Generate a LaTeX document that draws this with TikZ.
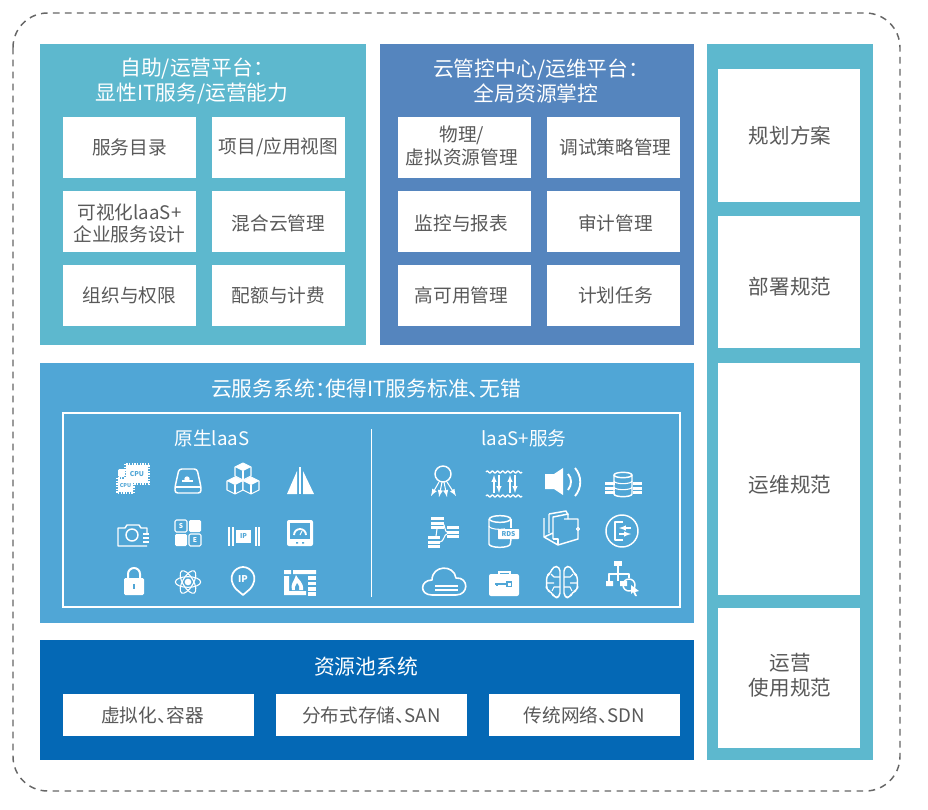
\documentclass[tikz,border=0pt]{standalone}
\usepackage{fontspec}
\setmainfont{Noto Sans CJK SC}[RawFeature=+palt]
\usetikzlibrary{positioning}

\definecolor{tealbg}{HTML}{5DB8CE}
\definecolor{steelbg}{HTML}{5585BE}
\definecolor{skybg}{HTML}{50A6D6}
\definecolor{deepbg}{HTML}{0468B5}
\definecolor{tiletext}{HTML}{595959}
\definecolor{edgegray}{HTML}{666666}

\tikzstyle{panel} = [rectangle, inner sep = 0pt, outer sep = 0pt]
\tikzstyle{head} = [text = white, font = \fontsize{15.6}{18.8}\selectfont, align = center, inner sep = 0pt]
\tikzstyle{sub} = [text = white, font = \fontsize{14}{17}\selectfont, inner sep = 0pt]
\tikzstyle{tile} = [rectangle, fill = white, text = tiletext, font = \fontsize{14}{17}\selectfont, align = center, inner sep = 0pt, minimum width = 99.75pt, minimum height = 45.75pt]
\tikzstyle{wide} = [tile, minimum width = 143.25pt, minimum height = 31.5pt]
\tikzstyle{side} = [tile, font = \fontsize{15.4}{18.8}\selectfont, minimum width = 106.5pt]
\tikzstyle{ico} = [draw = white, line width = 0.8pt, line join = round]
\tikzstyle{mini} = [inner sep = 0pt, font = \bfseries\fontsize{5}{5}\selectfont]

\newcommand{\nudge}[3]{\raisebox{\dimexpr#2-0.25em\relax}[0pt][0pt]{\makebox[0pt]{\kern#1\parbox{9.5em}{\centering #3}\kern-#1}}}
\newcommand{\isocube}[2]{
  \filldraw[ico, fill = skybg] (#1,#2-9) -- (#1+8,#2-5) -- (#1+8,#2+4) -- (#1,#2+8) -- (#1-8,#2+4) -- (#1-8,#2-5) -- cycle;
  \fill[white] (#1,#2-9) -- (#1+8,#2-5) -- (#1,#2-1) -- (#1-8,#2-5) -- cycle;
  \draw[ico] (#1,#2-1) -- (#1,#2+8);
}
\newcommand{\dbstack}[3]{
  \foreach \k in {0,1,2} \fill[white] (#1-#3,#2-6+\k*4.5) rectangle (#1+#3,#2-3+\k*4.5);
}

\tikzset{
  cpuicon/.pic = {
    \fill[white] (-8,-15) rectangle (14,3);
    \draw[white, line width = 1.2pt, dash pattern = on 1pt off 1pt] (-9,-16) rectangle (15,4);
    \fill[white, rounded corners = 1pt] (-16,-11) rectangle (-9,-3);
    \fill[white] (-16,-1) rectangle (-1,12);
    \draw[white, line width = 1.2pt, dash pattern = on 1pt off 1pt] (-17,-2) rectangle (0,13);
    \node[mini, text = skybg] at (3,-6) {CPU};
    \node[mini, text = skybg, font = \bfseries\fontsize{4}{4}\selectfont] at (-8.5,6) {CPU};
  },
  diskicon/.pic = {
    \draw[ico, line width = 1.1pt, rounded corners = 2pt] (-9,-12) -- (9,-12) -- (13,6) -- (13,12) -- (-13,12) -- (-13,6) -- cycle;
    \draw[ico] (-13,6) -- (13,6);
    \fill[white] (-6,-1) rectangle (5,1);
    \fill[white] (-1,-2) circle (2pt);
  },
  cubeicon/.pic = {
    \isocube{0}{-9}
    \isocube{-8}{5}
    \isocube{8}{5}
  },
  sailicon/.pic = {
    \fill[white] (-13,14) -- (-3,14) -- (-3,-9) -- cycle;
    \fill[white] (3,14) -- (14,14) -- (3,-9) -- cycle;
    \fill[white] (-1,-13) rectangle (1,14);
  },
  camicon/.pic = {
    \draw[ico, line width = 1.1pt] (15,-1) -- (15,-7) -- (9,-7) -- (7,-10) -- (-5,-10) -- (-7,-7) -- (-14,-7) -- (-14,11) -- (15,11);
    \draw[ico, line width = 1.1pt] (0,0) circle (4.5pt);
    \foreach \k in {-2,2,6} \fill[white] (11,\k) rectangle (17,\k+2);
  },
  seicon/.pic = {
    \fill[white, rounded corners = 1pt] (1,-13) rectangle (13,-1);
    \fill[white, rounded corners = 1pt] (-13,1) rectangle (-1,13);
    \draw[ico, rounded corners = 1pt] (-13,-13) rectangle (-1,-1);
    \draw[ico, rounded corners = 1pt] (1,1) rectangle (13,13);
    \node[mini, text = white] at (-7,-7) {S};
    \node[mini, text = white] at (7,7) {E};
  },
  ipicon/.pic = {
    \foreach \k in {-15,-11,12,15} \fill[white] (\k,-9) rectangle (\k+1.5,10);
    \fill[white] (-7,-6) rectangle (8,7);
    \node[mini, text = skybg] at (0.5,0.5) {IP};
  },
  gaugeicon/.pic = {
    \fill[white, rounded corners = 1.5pt] (-13,-13) rectangle (13,13);
    \fill[skybg] (-10,-10) rectangle (10,6);
    \draw[white, line width = 1.4pt] (-6,2) arc[start angle = 180, end angle = 0, radius = 4.5pt];
    \draw[white, line width = 0.8pt] (0,2) -- (2,-2);
    \fill[skybg] (-4,9) rectangle (-2,10.5) (2,9) rectangle (4,10.5);
  },
  lockicon/.pic = {
    \fill[white, rounded corners = 1pt] (-10,-4) rectangle (10,13);
    \draw[white, line width = 1.5pt] (-6,-4) -- (-6,-8) arc[start angle = 180, end angle = 0, radius = 4.5pt] -- (6,-4);
    \fill[skybg] (-1,2) rectangle (1,7);
  },
  atomicon/.pic = {
    \draw[ico] (0,0) ellipse (9.5pt and 4pt);
    \draw[ico, rotate = 60] (0,0) ellipse (9.5pt and 4pt);
    \draw[ico, rotate = -60] (0,0) ellipse (9.5pt and 4pt);
    \fill[white] (0,0) circle (2.5pt);
  },
  pinicon/.pic = {
    \draw[ico, line width = 1.3pt] (-7,6) .. controls (-17,-6) and (-8,-16) .. (0,-16) .. controls (8,-16) and (17,-6) .. (7,6) -- (0,12) -- cycle;
    \node[mini, text = white, font = \bfseries\fontsize{7}{7}\selectfont] at (0,-4) {IP};
  },
  fireicon/.pic = {
    \fill[white] (-16,-12) rectangle (-9,-8) (-7,-12) rectangle (16,-8);
    \fill[white] (-16,-6) rectangle (-11,13) (-11,9) rectangle (6,13);
    \foreach \k in {-6,-0.5,5,10} \fill[white] (8,\k) rectangle (16,\k+3.5);
    \fill[white] (-4,-7) .. controls (-2,-2) and (4,0) .. (3,8) -- (-8,8) .. controls (-10,2) and (-6,0) .. (-4,-7);
    \fill[skybg] (-3,1) .. controls (-1,4) and (0,5) .. (-1,8) -- (-5,8) .. controls (-6,5) and (-4,4) .. (-3,1);
  },
  treeicon/.pic = {
    \draw[ico, line width = 1.1pt] (-1,-8) circle (6pt);
    \draw[ico, -latex] (-5,0) -- (-13,14);
    \draw[ico, -latex] (-2,0) -- (-5,15);
    \draw[ico, -latex] (0,0) -- (3,15);
    \draw[ico, -latex] (3,0) -- (12,14);
  },
  qosicon/.pic = {
    \draw[ico, line width = 1pt] plot[domain = -18:18, samples = 60] (\x,{-11+1*sin(\x*70)});
    \draw[ico, line width = 1pt] plot[domain = -18:18, samples = 60] (\x,{13+1*sin(\x*70)});
    \foreach \k in {-10,6} \draw[ico, -latex] (\k,10) -- (\k,-8);
    \foreach \k in {-5,11} \draw[ico, latex-] (\k,10) -- (\k,-8);
  },
  speakericon/.pic = {
    \fill[white] (-17,-8) -- (-8,-8) -- (1,-14) -- (1,13) -- (-8,7) -- (-17,7) -- cycle;
    \draw[white, line width = 1.4pt] (6,-8) .. controls (10,-4) and (10,3) .. (6,8);
    \draw[white, line width = 1.4pt] (13,-14) .. controls (20,-6) and (20,6) .. (13,14);
  },
  dbicon/.pic = {
    \draw[ico, line width = 1.1pt] (-8,-7) -- (-8,12) arc[start angle = 180, end angle = 360, x radius = 6.75pt, y radius = 2pt] -- (10,-7);
    \draw[ico, line width = 1.1pt] (1,-7) ellipse (6.75pt and 2pt);
    \draw[ico] (-8,-1) arc[start angle = 180, end angle = 360, x radius = 6.75pt, y radius = 2pt];
    \draw[ico] (-8,5) arc[start angle = 180, end angle = 360, x radius = 6.75pt, y radius = 2pt];
    \dbstack{-12}{6}{5}
    \dbstack{15}{6}{4.5}
  },
  flowicon/.pic = {
    \dbstack{-7}{-9}{6.5}
    \dbstack{9}{0}{6}
    \dbstack{-10}{10}{6}
    \draw[ico] (-1,-9) .. controls (1,-6) and (1,0) .. (3,0) (-7,-3) -- (-8,4) (-4,10) .. controls (0,10) and (0,2) .. (3,2);
  },
  rdsicon/.pic = {
    \draw[ico, line width = 1.1pt] (-15,-12) -- (-15,13) arc[start angle = 180, end angle = 360, x radius = 8pt, y radius = 2.5pt] -- (7,8);
    \draw[ico, line width = 1.1pt] (7,-12) -- (7,-3);
    \draw[ico, line width = 1.1pt] (-4,-12) ellipse (8pt and 2.5pt);
    \draw[ico] (-15,-5) arc[start angle = 180, end angle = 300, x radius = 8pt, y radius = 2.5pt];
    \fill[white, rounded corners = 0.5pt] (-6,-2) rectangle (15,8);
    \node[mini, text = skybg] at (4.5,3) {RDS};
  },
  foldericon/.pic = {
    \draw[ico, line width = 1.1pt] (-11,-16) -- (6,-19) -- (8,-15) (-16,-12) -- (-16,7) -- (-2,15) -- (18,9) -- (18,-11) -- (4,-11);
    \draw[ico, line width = 1.1pt] (-7,9) -- (-7,-13) -- (8,-16) -- (8,-11) (-11,-16) -- (-11,3) (-16,7) -- (-7,3);
    \draw[ico] (-2,15) -- (-2,9) -- (-7,9);
    \draw[ico] (18,-1) circle (1.2pt);
  },
  swapicon/.pic = {
    \draw[ico, line width = 1.1pt] (0,0) circle (12pt);
    \draw[ico] (1,-9) -- (-7,-9) -- (-7,9) -- (1,9);
    \draw[ico, -latex] (9,-3) -- (-3,-3);
    \draw[ico, latex-] (9,3) -- (-3,3);
  },
  cloudicon/.pic = {
    \draw[ico, line width = 1.2pt] (-12,13) .. controls (-25,13) and (-24,-2) .. (-12,-2) .. controls (-12,-17) and (10,-18) .. (12,-4) .. controls (25,-5) and (25,13) .. (12,13) -- cycle;
    \fill[white] (-9,3) rectangle (14,5);
    \fill[white] (-9,7) rectangle (14,9);
  },
  keyicon/.pic = {
    \draw[white, line width = 1pt] (-5,-8) -- (-5,-11) -- (6,-11) -- (6,-8);
    \fill[white, rounded corners = 1.5pt] (-15,-9) rectangle (15,13);
    \draw[skybg, line width = 0.9pt] (-9,1) -- (2,1) (-7,1) -- (-7,3);
    \fill[skybg] (2,-2) rectangle (8,4);
    \fill[white] (3.5,-0.5) rectangle (6.5,2.5);
  },
  brainicon/.pic = {
    \foreach \s in {-1,1} {
      \draw[ico, line width = 1.1pt, rounded corners = 3pt, xscale = \s] (2,-15) -- (9,-16) -- (11,-9) -- (16,-6) -- (15,2) -- (16,8) -- (10,10) -- (8,16) -- (2,15) -- cycle;
      \draw[ico, xscale = \s] (2,-5) -- (8,-5) -- (11,-8) (2,5) -- (8,5) -- (10,9) (15,1) -- (8,1);
    }
  },
  orgicon/.pic = {
    \fill[white] (-6,-15) rectangle (2,-10);
    \fill[white] (-14,5) rectangle (-7,10) (0,5) rectangle (7,10);
    \draw[ico] (-2,-10) -- (-2,5) (-11,5) -- (-11,-2) -- (9,-2) -- (9,2);
    \draw[ico, line width = 1.1pt] (9,9) circle (4.5pt);
    \fill[white] (11,9) -- (19,15) -- (15,16) -- (17,20) -- (15,20) -- (13,16) -- (11,18) -- cycle;
  }
}

\begin{document}
\begin{tikzpicture}[x = 0.75pt, y = -0.75pt, node distance = 55.5pt]

  \useasboundingbox (0,0) rectangle (928,810);

  \draw[edgegray, line width = 1.1pt, dash pattern = on 5pt off 4pt, rounded corners = 26pt] (13,13) rectangle (900,791);

  \node[panel, fill = tealbg, minimum width = 244.5pt, minimum height = 225.75pt] (selfpanel) at (203,194.5) {};
  \node[panel, fill = steelbg, minimum width = 235.5pt, minimum height = 225.75pt] (opspanel) at (537,194.5) {};
  \node[panel, fill = skybg, minimum width = 490.5pt, minimum height = 195pt] (svcpanel) at (367,493) {};
  \node[panel, fill = deepbg, minimum width = 490.5pt, minimum height = 90pt] (poolpanel) at (367,700) {};
  \node[panel, fill = tealbg, minimum width = 124.5pt, minimum height = 537pt] (rulepanel) at (790,402) {};

  \node[head] (selftitle) at (192,81.5) {自助/运营平台：\\显性IT服务/运营能力};
  \node[head] (opstitle) at (536,81) {云管控中心/运维平台：\\全局资源掌控};
  \node[head] (svctitle) at (366,389) {云服务系统：使得IT服务标准、无错};
  \node[head] (pooltitle) at (366,667) {资源池系统};

  \node[tile] (catalog) at (129.5,147.5) {服务目录};
  \node[tile, below of = catalog] (design) {\nudge{0pt}{-1.5pt}{可视化laaS+\\企业服务设计}};
  \node[tile, below of = design] (org) {组织与权限};
  \node[tile, right of = catalog, node distance = 111.75pt] (project) {项目/应用视图};
  \node[tile, below of = project] (hybrid) {\nudge{0pt}{-1.5pt}{混合云管理}};
  \node[tile, below of = hybrid] (quota) {配额与计费};

  \node[tile] (physical) at (464.5,147.5) {\nudge{-2pt}{1pt}{物理/\\虚拟资源管理}};
  \node[tile, below of = physical] (monitor) {\nudge{-2.25pt}{-1.5pt}{监控与报表}};
  \node[tile, below of = monitor] (ha) {\nudge{-2.25pt}{0pt}{高可用管理}};
  \node[tile, right of = physical, node distance = 111.75pt] (debug) {\nudge{1.5pt}{0pt}{调试策略管理}};
  \node[tile, below of = debug] (audit) {\nudge{1.5pt}{-1.5pt}{审计管理}};
  \node[tile, below of = audit] (plantask) {\nudge{1.5pt}{0pt}{计划任务}};

  \node[wide] (virt) at (158.5,715) {\nudge{-4.5pt}{0pt}{虚拟化、容器}};
  \node[wide, right of = virt, node distance = 159.75pt] (store) {分布式存储、SAN};
  \node[wide, right of = store, node distance = 159.75pt] (net) {传统网络、SDN};

  \node[side, minimum height = 99.75pt] (scheme) at (789,135.5) {\nudge{0.75pt}{0pt}{规划方案}};
  \node[side, minimum height = 99pt] (deploy) at (789,282) {\nudge{0.75pt}{-3.5pt}{部署规范}};
  \node[side, minimum height = 174pt] (maint) at (789,479) {\nudge{0.75pt}{-3.75pt}{运维规范}};
  \node[side, minimum height = 105pt] (usage) at (789,678) {\nudge{0.75pt}{2.25pt}{运营\\使用规范}};

  \node[panel, draw = white, line width = 1.5pt, minimum width = 462.75pt, minimum height = 145.5pt] (frame) at (371.5,510) {};
  \coordinate (divtop) at (371.5,429);
  \coordinate (divend) at (371.5,597);
  \draw[white, line width = 1.1pt] (divtop) -- (divend);

  \node[sub] (native) at (212,438) {原生laaS};
  \node[sub] (plus) at (524,438) {laaS+服务};

  \pic at (134,480) {cpuicon};
  \pic at (188,481) {diskicon};
  \pic at (243,481) {cubeicon};
  \pic at (300,480) {sailicon};
  \pic at (132,535) {camicon};
  \pic at (188,533) {seicon};
  \pic at (243,536) {ipicon};
  \pic at (300,533) {gaugeicon};
  \pic at (134,582) {lockicon};
  \pic at (188,582) {atomicon};
  \pic at (243,583) {pinicon};
  \pic at (300,582) {fireicon};

  \pic at (444,482) {treeicon};
  \pic at (504,483) {qosicon};
  \pic at (562,482) {speakericon};
  \pic at (622,482) {dbicon};
  \pic at (444,532) {flowicon};
  \pic at (504,531) {rdsicon};
  \pic at (560,530) {foldericon};
  \pic at (622,531) {swapicon};
  \pic at (444,582) {cloudicon};
  \pic at (504,583) {keyicon};
  \pic at (562,582) {brainicon};
  \pic at (620,576) {orgicon};

\end{tikzpicture}
\end{document}
